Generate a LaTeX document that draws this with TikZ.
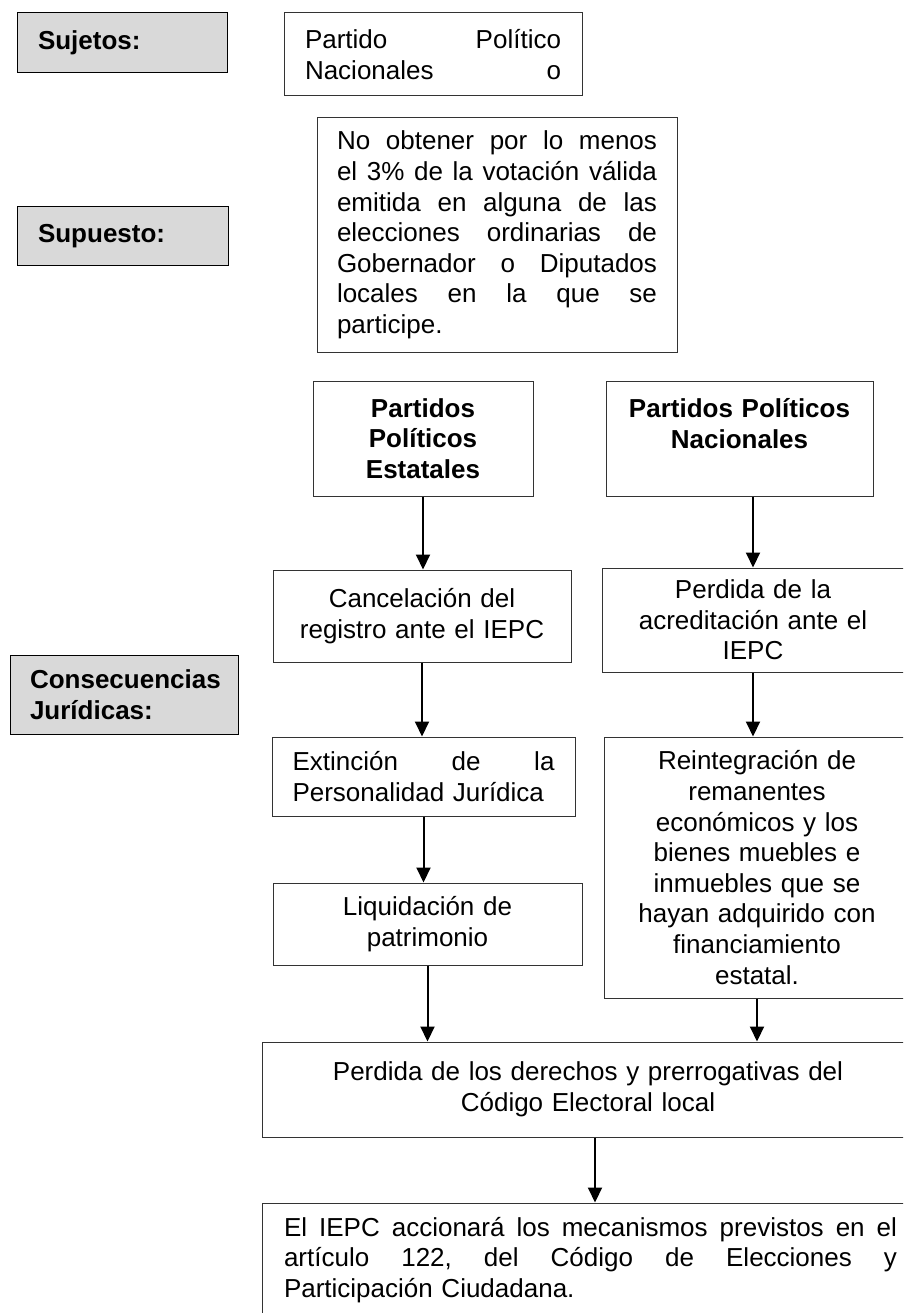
\documentclass[tikz,border=0pt]{standalone}
\usepackage{fontspec}
\setmainfont{Liberation Sans}
\usetikzlibrary{arrows.meta}
\begin{document}
\begin{tikzpicture}[x=1pt,y=-1pt,
  box/.style={draw=black!80,line width=1pt,inner sep=0pt,align=center,font=\fontsize{26}{30.6}\selectfont},
  tag/.style={draw=black,fill=black!15,line width=1pt,inner sep=0pt,align=left,font=\fontsize{26}{30.6}\selectfont\bfseries},
  arr/.style={line width=2pt,-{Triangle[length=15pt,width=14pt]}}]
            \useasboundingbox (0,0) rectangle (903,1313);
            \clip (0,0) rectangle (903,1313);
            \node[tag,minimum width=210pt,minimum height=60pt,text width=168pt] (sujl) at (122,43) {Sujetos:};
            \node[tag,minimum width=211pt,minimum height=59pt,text width=169pt] (supl) at (122.5,236.5) {Supuesto:};
            \node[tag,minimum width=228pt,minimum height=79pt,text width=188pt] (consl) at (124,694.5) {Consecuencias\\Jurídicas:};
            \node[box,align=left,minimum width=298pt,minimum height=83pt,text width=256pt] (suj) at (433,54.5) {Partido\hfill Político\\Nacionales\hfill o};
            \node[box,align=left,minimum width=360pt,minimum height=234pt,text width=320pt] (sup) at (497,235) {No\hfill obtener\hfill por\hfill lo\hfill menos\\el\hfill 3\%\hfill de\hfill la\hfill votación\hfill válida\\emitida\hfill en\hfill alguna\hfill de\hfill las\\elecciones\hfill ordinarias\hfill de\\Gobernador\hfill o\hfill Diputados\\locales\hfill en\hfill la\hfill que\hfill se\\participe.};
            \node[box,font=\fontsize{26}{30.6}\selectfont\bfseries,minimum width=220pt,minimum height=115pt,text width=200pt] (est) at (423,438.5) {Partidos\\Políticos\\Estatales};
            \node[box,font=\fontsize{26}{30.6}\selectfont\bfseries,minimum width=267pt,minimum height=115pt,text width=245pt] (nac) at (739.5,438.5) {Partidos Políticos\\Nacionales\\\mbox{}};
            \node[box,minimum width=298pt,minimum height=92pt,text width=270pt] (canc) at (422,616) {Cancelación del\\registro ante el IEPC};
            \node[box,minimum width=302pt,minimum height=104pt,text width=270pt] (acred) at (753,620) {Perdida de la\\acreditación ante el\\IEPC};
            \node[box,align=left,minimum width=303pt,minimum height=79pt,text width=262pt] (ext) at (423.5,776.5) {Extinción\hfill de\hfill la\\Personalidad Jurídica};
            \node[box,minimum width=306pt,minimum height=261pt,text width=280pt] (reint) at (757,867.5) {Reintegración de\\remanentes\\económicos y los\\bienes muebles e\\inmuebles que se\\hayan adquirido con\\financiamiento\\estatal.};
            \node[box,minimum width=309pt,minimum height=82pt,text width=280pt] (liq) at (427.5,924) {Liquidación de\\patrimonio};
            \node[box,minimum width=652pt,minimum height=95pt,text width=600pt] (perd) at (588,1089.5) {Perdida de los derechos y prerrogativas del\\Código Electoral local};
            \node[box,align=left,minimum width=657pt,minimum height=114pt,text width=613pt] (ult) at (590.5,1260) {El\hfill IEPC\hfill accionará\hfill los\hfill mecanismos\hfill previstos\hfill en\hfill el\\artículo\hfill 122,\hfill del\hfill Código\hfill de\hfill Elecciones\hfill y\\Participación Ciudadana.};
            \draw[arr] (est.south) -- (est.south |- canc.north);
            \draw[arr] (nac.south -| acred.north) -- (acred.north);
            \draw[arr] (canc.south) -- (canc.south |- ext.north);
            \draw[arr] (acred.south) -- (acred.south |- reint.north);
            \draw[arr] (ext.south) -- (ext.south |- liq.north);
            \draw[arr] (reint.south) -- (reint.south |- perd.north);
            \draw[arr] (liq.south) -- (liq.south |- perd.north);
            \draw[arr] ([xshift=7pt]perd.south) -- ([xshift=7pt]perd.south |- ult.north);
            \end{tikzpicture}
\end{document}
